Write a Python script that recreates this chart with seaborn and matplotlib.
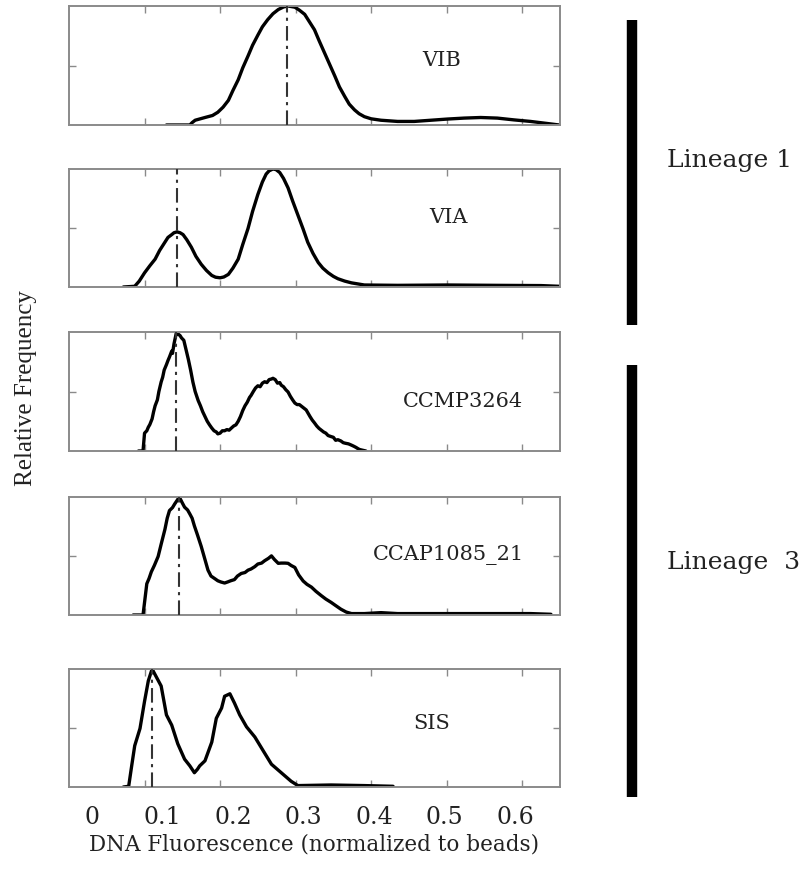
import numpy as np
import pandas as pd
import matplotlib
matplotlib.use("Agg")
import matplotlib.pyplot as plt
from matplotlib.lines import Line2D
import seaborn as sns

# ---------------- data (normalised DNA fluorescence histograms) ----------------
strains = ["VIB", "VIA", "CCMP3264", "CCAP1085_21", "SIS"]
peaks = [0.289, 0.143, 0.141, 0.146, 0.110]

vib_x = [0.129, 0.160, 0.163, 0.167, 0.180, 0.190, 0.197, 0.204, 0.211, 0.217, 0.224, 0.230,
         0.237, 0.243, 0.250, 0.256, 0.263, 0.270, 0.277, 0.284, 0.290, 0.299, 0.305, 0.312,
         0.318, 0.325, 0.331, 0.338, 0.345, 0.352, 0.358, 0.365, 0.371, 0.378, 0.384, 0.391,
         0.400, 0.413, 0.435, 0.457, 0.479, 0.501, 0.523, 0.545, 0.567, 0.589, 0.611, 0.634,
         0.649]
vib_y = [0.0, 0.0, 0.02, 0.04, 0.063, 0.08, 0.107, 0.15, 0.207, 0.29, 0.38, 0.48,
         0.58, 0.67, 0.755, 0.825, 0.885, 0.935, 0.97, 0.992, 1.0, 0.99, 0.965, 0.93,
         0.87, 0.80, 0.71, 0.61, 0.51, 0.41, 0.32, 0.24, 0.175, 0.127, 0.095, 0.07,
         0.052, 0.04, 0.03, 0.03, 0.04, 0.05, 0.058, 0.063, 0.058, 0.043, 0.03, 0.012,
         0.0]

via_x = [0.072, 0.087, 0.093, 0.100, 0.107, 0.114, 0.120, 0.127, 0.131, 0.136, 0.139, 0.143,
         0.147, 0.151, 0.156, 0.162, 0.168, 0.175, 0.182, 0.189, 0.194, 0.200, 0.205, 0.211,
         0.217, 0.224, 0.230, 0.237, 0.243, 0.250, 0.256, 0.261, 0.265, 0.270, 0.274, 0.279,
         0.284, 0.290, 0.296, 0.303, 0.310, 0.316, 0.323, 0.330, 0.336, 0.343, 0.350, 0.356,
         0.365, 0.374, 0.391, 0.435, 0.501, 0.567, 0.625, 0.649]
via_y = [0.0, 0.006, 0.05, 0.12, 0.18, 0.236, 0.31, 0.38, 0.42, 0.444, 0.46, 0.467,
         0.46, 0.444, 0.40, 0.337, 0.26, 0.193, 0.14, 0.098, 0.083, 0.078, 0.085, 0.107,
         0.16, 0.236, 0.36, 0.496, 0.64, 0.784, 0.89, 0.957, 0.985, 1.0, 0.995, 0.97,
         0.92, 0.84, 0.73, 0.61, 0.49, 0.38, 0.285, 0.207, 0.16, 0.121, 0.09, 0.07,
         0.05, 0.035, 0.017, 0.014, 0.017, 0.014, 0.012, 0.006]

ccmp_x = [0.092, 0.098, 0.100, 0.103, 0.105, 0.107, 0.110, 0.112, 0.114, 0.117, 0.119, 0.122,
          0.124, 0.126, 0.129, 0.131, 0.133, 0.136, 0.137, 0.139, 0.142, 0.144, 0.147, 0.149,
          0.152, 0.155, 0.158, 0.161, 0.164, 0.167, 0.171, 0.174, 0.177, 0.180, 0.183, 0.186,
          0.189, 0.192, 0.195, 0.197, 0.200, 0.203, 0.206, 0.209, 0.212, 0.215, 0.218, 0.221,
          0.224, 0.227, 0.230, 0.233, 0.236, 0.239, 0.241, 0.244, 0.247, 0.250, 0.253, 0.256,
          0.259, 0.262, 0.265, 0.268, 0.270, 0.273, 0.276, 0.279, 0.281, 0.284, 0.287, 0.290,
          0.293, 0.296, 0.299, 0.302, 0.305, 0.308, 0.311, 0.314, 0.316, 0.319, 0.322, 0.325,
          0.328, 0.331, 0.334, 0.337, 0.340, 0.343, 0.347, 0.350, 0.353, 0.356, 0.360, 0.363,
          0.366, 0.370, 0.374, 0.377, 0.380, 0.383, 0.385, 0.393]
ccmp_y = [0.0, 0.0, 0.15, 0.17, 0.20, 0.222, 0.27, 0.33, 0.38, 0.43, 0.50, 0.58,
          0.62, 0.68, 0.726, 0.76, 0.79, 0.84, 0.82, 0.90, 0.99, 0.985, 0.97, 0.95,
          0.93, 0.85, 0.77, 0.68, 0.58, 0.50, 0.424, 0.38, 0.33, 0.29, 0.25, 0.22,
          0.193, 0.17, 0.16, 0.144, 0.15, 0.17, 0.17, 0.18, 0.175, 0.193, 0.21, 0.22,
          0.25, 0.29, 0.34, 0.38, 0.41, 0.45, 0.467, 0.50, 0.53, 0.548, 0.54, 0.57,
          0.582, 0.575, 0.60, 0.605, 0.611, 0.60, 0.57, 0.575, 0.553, 0.54, 0.515, 0.496,
          0.46, 0.43, 0.403, 0.39, 0.39, 0.375, 0.36, 0.345, 0.323, 0.29, 0.26, 0.236,
          0.21, 0.19, 0.175, 0.16, 0.15, 0.13, 0.121, 0.115, 0.09, 0.095, 0.084, 0.07,
          0.065, 0.06, 0.049, 0.04, 0.03, 0.018, 0.012, 0.0]

ccap_x = [0.085, 0.098, 0.103, 0.106, 0.109, 0.113, 0.118, 0.122, 0.127, 0.130, 0.133, 0.137,
          0.140, 0.143, 0.146, 0.150, 0.153, 0.157, 0.160, 0.163, 0.166, 0.170, 0.175, 0.180,
          0.184, 0.188, 0.193, 0.197, 0.201, 0.206, 0.210, 0.214, 0.219, 0.223, 0.228, 0.233,
          0.237, 0.241, 0.246, 0.250, 0.255, 0.259, 0.264, 0.268, 0.272, 0.277, 0.281, 0.286,
          0.290, 0.294, 0.299, 0.304, 0.310, 0.315, 0.321, 0.327, 0.334, 0.340, 0.347, 0.353,
          0.360, 0.367, 0.374, 0.391, 0.413, 0.435, 0.523, 0.611, 0.638]
ccap_y = [0.0, 0.0, 0.265, 0.31, 0.366, 0.42, 0.496, 0.60, 0.726, 0.82, 0.885, 0.91,
          0.942, 0.97, 1.0, 0.95, 0.914, 0.89, 0.856, 0.82, 0.755, 0.68, 0.582, 0.47,
          0.38, 0.33, 0.308, 0.29, 0.28, 0.271, 0.28, 0.29, 0.30, 0.33, 0.352, 0.36,
          0.38, 0.39, 0.41, 0.432, 0.44, 0.46, 0.48, 0.501, 0.47, 0.438, 0.44, 0.44,
          0.438, 0.42, 0.403, 0.34, 0.288, 0.26, 0.236, 0.20, 0.164, 0.135, 0.107, 0.08,
          0.049, 0.025, 0.012, 0.012, 0.02, 0.012, 0.012, 0.012, 0.006]

sis_x = [0.072, 0.079, 0.083, 0.087, 0.094, 0.100, 0.105, 0.110, 0.116, 0.122, 0.129, 0.136,
         0.144, 0.153, 0.160, 0.166, 0.170, 0.173, 0.180, 0.189, 0.195, 0.202, 0.206, 0.213,
         0.219, 0.226, 0.235, 0.246, 0.257, 0.268, 0.281, 0.294, 0.303, 0.347, 0.391, 0.429]
sis_y = [0.0, 0.006, 0.18, 0.35, 0.496, 0.726, 0.90, 1.0, 0.928, 0.856, 0.611, 0.524,
         0.366, 0.236, 0.179, 0.121, 0.15, 0.179, 0.222, 0.38, 0.582, 0.669, 0.769, 0.79,
         0.712, 0.611, 0.51, 0.424, 0.308, 0.193, 0.121, 0.049, 0.012, 0.017, 0.012, 0.006]

curves_x = [vib_x, via_x, ccmp_x, ccap_x, sis_x]
curves_y = [vib_y, via_y, ccmp_y, ccap_y, sis_y]

xtick_vals = [0.1, 0.2, 0.3, 0.4, 0.5, 0.6]
xtick_labels = ["0", "0.1", "0.2", "0.3", "0.4", "0.5", "0.6"]
lineage_labels = ["Lineage 1", "Lineage  3"]

# ---------------- style ----------------
sns.set_theme(style="white")
plt.rcParams["font.family"] = ["DejaVu Serif", "DejaVu Sans"]
text_color = "#222222"
spine_color = "#8a8a8a"

W, H = 812, 869
fig = plt.figure(figsize=(W / 100, H / 100), dpi=100)

# panel boxes in pixel coordinates (top, bottom)
left_px, right_px = 69, 560
boxes = [(6, 125), (169, 287), (332, 451), (497, 615), (669, 787)]
label_pos = [(0.758, 0.54), (0.772, 0.59), (0.802, 0.42), (0.772, 0.51), (0.739, 0.54)]

axes = []
for i, (t, b) in enumerate(boxes):
    ax = fig.add_axes([left_px / W, 1 - b / H, (right_px - left_px) / W, (b - t) / H])
    df = pd.DataFrame({"x": curves_x[i], "y": curves_y[i]})
    sns.lineplot(data=df, x="x", y="y", ax=ax, color="black", lw=2.4,
                 estimator=None, sort=False)
    ax.axvline(peaks[i], color="#333333", lw=1.5, ls=(0, (7, 2.5, 1.5, 2.5)), zorder=3)
    ax.set_xlim(0, 0.65)
    ax.set_ylim(0, 1.0)
    ax.set_xticks(xtick_vals)
    ax.set_yticks([0.5])
    ax.tick_params(axis="both", direction="in", length=5, width=1.0, color=spine_color,
                   top=True, bottom=True, left=True, right=True,
                   labelbottom=False, labelleft=False)
    for s in ax.spines.values():
        s.set_color(spine_color)
        s.set_linewidth(1.4)
    ax.set_xlabel("")
    ax.set_ylabel("")
    ax.text(label_pos[i][0], label_pos[i][1], strains[i], transform=ax.transAxes,
            ha="center", va="center", fontsize=15, color=text_color)
    axes.append(ax)

# tick labels axis (labels are slightly offset from tick marks in the original)
lab = fig.add_axes([left_px / W, 1 - 787 / H, (right_px - left_px) / W, 0.001])
lab.set_xlim(-23 / 705, 468 / 705)
lab.set_xticks([0, 0.1, 0.2, 0.3, 0.4, 0.5, 0.6])
lab.set_xticklabels(xtick_labels, fontsize=17, color=text_color)
lab.tick_params(axis="x", length=0, pad=14)
lab.set_yticks([])
for s in lab.spines.values():
    s.set_visible(False)
lab.patch.set_alpha(0)
lab.set_xlabel("DNA Fluorescence (normalized to beads)", fontsize=15.5,
               color=text_color, labelpad=3)

# y label
fig.text(26 / W, 1 - 388 / H, "Relative Frequency", rotation=90, ha="center", va="center",
         fontsize=18, color=text_color, family=["Liberation Serif", "DejaVu Serif"])

# lineage bars
fig.add_artist(Line2D([632 / W, 632 / W], [1 - 20 / H, 1 - 325 / H], color="black",
                      lw=7.5, solid_capstyle="butt"))
fig.add_artist(Line2D([632 / W, 632 / W], [1 - 365 / H, 1 - 797 / H], color="black",
                      lw=7.5, solid_capstyle="butt"))
fig.text(667 / W, 1 - 160 / H, lineage_labels[0], ha="left", va="center",
         fontsize=18, color=text_color)
fig.text(667 / W, 1 - 563 / H, lineage_labels[1], ha="left", va="center",
         fontsize=18, color=text_color)

fig.savefig("out.png", dpi=100, facecolor="white")
